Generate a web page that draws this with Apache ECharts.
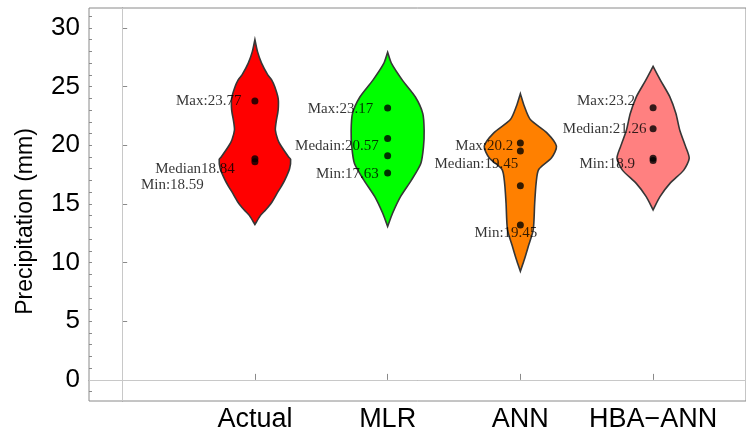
<!DOCTYPE html>
<html><head><meta charset="utf-8">
<script src="https://cdn.jsdelivr.net/npm/echarts@6/dist/echarts.min.js"></script>
<style>html,body{margin:0;padding:0;background:#fff}#c{width:746px;height:433px}</style>
</head><body><div id="c"></div>
<script>
// ---- data ----
const categories = ['Actual', 'MLR', 'ANN', 'HBA\u2212ANN'];
const yTicks = [0, 5, 10, 15, 20, 25, 30];
const violinColors = ['#ff0000', '#00ff00', '#ff8000', '#ff8080'];

// violin outlines: [value, half width (x-axis units)]
const actualProfile = [[29.0,0],[28.0,0.019],[27.0,0.05],[26.0,0.097],[25.6,0.125],[25.0,0.149],[24.0,0.175],[23.0,0.175],[22.0,0.16],[21.3,0.154],[20.5,0.172],[20.0,0.194],[19.0,0.254],[18.8,0.269],[18.0,0.261],[17.0,0.224],[16.5,0.199],[16.0,0.172],[15.1,0.125],[14.5,0.082],[14.0,0.041],[13.24,0]];
const mlrProfile = [[27.93,0],[26.95,0.03],[25.53,0.112],[24.11,0.209],[22.7,0.265],[21.28,0.275],[19.86,0.27],[18.45,0.25],[17.03,0.179],[15.62,0.097],[14.2,0.037],[13.07,0]];
const annProfile = [[24.4,0],[23.32,0.03],[22.19,0.075],[21.06,0.2],[19.92,0.272],[18.93,0.235],[17.93,0.138],[16.8,0.119],[15.09,0.108],[12.81,0.097],[11.39,0.06],[10.26,0.03],[9.26,0]];
const hbaProfile = [[26.72,0],[25.53,0.056],[24.11,0.127],[22.7,0.172],[21.28,0.201],[19.86,0.246],[18.88,0.272],[17.88,0.231],[16.75,0.127],[15.62,0.052],[14.49,0]];

// observation points
const actualPoints = [23.77, 18.84, 18.59];
const mlrPoints = [23.17, 20.57, 19.1, 17.63];
const annPoints = [20.2, 19.5, 16.55, 13.2];
const hbaPoints = [23.2, 21.4, 18.9, 18.7];

// annotation texts and the values they are attached to
const actualLabels = ['Max:23.77', 'Median18.84', 'Min:18.59'];
const actualLabelAt = [23.77, 18.84, 18.59];
const mlrLabels = ['Max:23.17', 'Medain:20.57', 'Min:17.63'];
const mlrLabelAt = [23.17, 20.57, 17.63];
const annLabels = ['Max:20.2', 'Median:19.45', 'Min:19.45'];
const annLabelAt = [20.2, 19.5, 13.2];
const hbaLabels = ['Max:23.2', 'Median:21.26', 'Min:18.9'];
const hbaLabelAt = [23.2, 21.4, 18.9];

// ---- layout / style ----
const labelOffsets = [
  [[-13, 0], [-19.6, 9.7], [-50.6, 22.8]],
  [[-14, 0.5], [-8.3, 7], [-8.3, 1.5]],
  [[-6.6, 3.3], [-1.6, 13.4], [17.5, 8.5]],
  [[-17.7, -6.5], [-6, 0], [-17.7, 6.4]]
];
const profiles = [actualProfile, mlrProfile, annProfile, hbaProfile];
const points = [actualPoints, mlrPoints, annPoints, hbaPoints];
const labels = [actualLabels, mlrLabels, annLabels, hbaLabels];
const labelAt = [actualLabelAt, mlrLabelAt, annLabelAt, hbaLabelAt];

const minorTicks = [];
for (let v = -1; v <= 31; v++) minorTicks.push(v);

const axisGray = '#8a8a8a';
const series = [];

profiles.forEach((prof, i) => {
  const xc = i + 1;
  series.push({
    type: 'custom',
    name: categories[i],
    coordinateSystem: 'cartesian2d',
    data: [[xc, prof[0][0]]],
    z: 2,
    silent: true,
    renderItem: function (params, api) {
      const left = prof.map(p => api.coord([xc - p[1], p[0]]));
      const right = prof.slice().reverse().map(p => api.coord([xc + p[1], p[0]]));
      return {
        type: 'polygon',
        shape: { points: left.concat(right), smooth: 0.25 },
        style: { fill: violinColors[i], stroke: '#363636', lineWidth: 1.6 }
      };
    }
  });
});

series.push({
  type: 'scatter',
  name: 'points',
  z: 5,
  symbolSize: 7,
  itemStyle: { color: '#000' },
  data: points.flatMap((arr, i) => arr.map(v => [i + 1, v])),
  markLine: {
    silent: true,
    symbol: 'none',
    label: { show: false },
    lineStyle: { color: '#c8c8c8', width: 1, type: 'solid' },
    data: [{ xAxis: 0 }, { yAxis: 0 }]
  }
});

const labelData = [];
labels.forEach((arr, i) => {
  arr.forEach((t, j) => {
    labelData.push({
      value: [i + 1, labelAt[i][j]],
      label: { formatter: t, offset: labelOffsets[i][j] }
    });
  });
});
series.push({
  type: 'scatter',
  name: 'labels',
  z: 6,
  silent: true,
  symbolSize: 1,
  itemStyle: { color: 'rgba(0,0,0,0)' },
  label: {
    show: true,
    position: 'left',
    distance: 0,
    color: '#000',
    fontFamily: 'Liberation Serif',
    fontSize: 15
  },
  data: labelData
});

const chart = echarts.init(document.getElementById('c'), null, { renderer: 'canvas' });
chart.setOption({
  animation: false,
  backgroundColor: '#fff',
  grid: { left: 89, top: 8, right: -6, bottom: 31, show: true, borderColor: axisGray, borderWidth: 1 },
  xAxis: {
    type: 'value',
    min: -0.25,
    max: 4.70,
    axisLine: { show: true, lineStyle: { color: axisGray } },
    axisTick: { show: true, inside: true, length: 6, customValues: [1, 2, 3, 4], lineStyle: { color: axisGray } },
    axisLabel: {
      customValues: [1, 2, 3, 4],
      formatter: v => categories[Math.round(v) - 1] || '',
      color: '#000', fontFamily: 'Liberation Sans', fontSize: 27, margin: 5
    },
    splitLine: { show: false }
  },
  yAxis: [{
    type: 'value',
    min: -1.8,
    max: 31.7,
    name: 'Precipitation (mm)',
    nameLocation: 'middle',
    nameGap: 52,
    nameTextStyle: { color: '#000', fontFamily: 'Liberation Sans', fontSize: 23, padding: [0, 34, 0, 0] },
    axisLine: { show: true, lineStyle: { color: axisGray } },
    axisTick: { show: true, inside: true, length: 5, customValues: yTicks, lineStyle: { color: axisGray } },
    axisLabel: { customValues: yTicks, color: '#000', fontFamily: 'Liberation Sans', fontSize: 26, margin: 9 },
    splitLine: { show: false }
  }, {
    type: 'value',
    min: -1.8,
    max: 31.7,
    position: 'left',
    axisLine: { show: false },
    axisTick: { show: true, inside: true, length: 3, customValues: minorTicks, lineStyle: { color: axisGray } },
    axisLabel: { show: false },
    splitLine: { show: false }
  }],
  series: series
});
</script>
</body></html>
